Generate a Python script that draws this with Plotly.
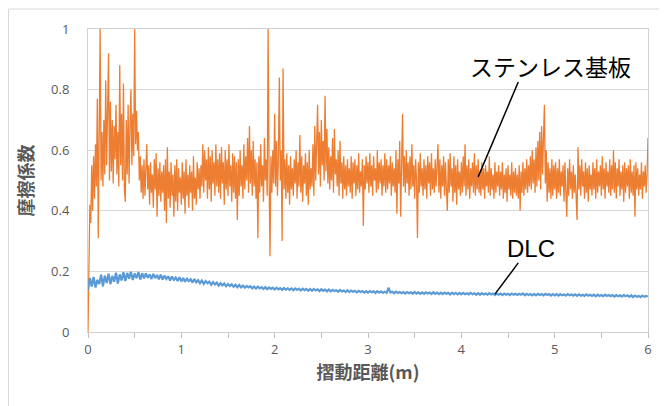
import plotly.graph_objects as go

# stainless substrate friction coefficient, one sample every 0.01 m
stainless = [
    0.00, 0.30, 0.42, 0.36, 0.55, 0.40, 0.58, 0.44, 0.62, 0.48, 0.77, 0.31, 0.60, 1.00, 0.50, 0.66, 0.48, 0.70, 0.52, 0.83,
    0.55, 0.72, 0.92, 0.50, 0.76, 0.53, 0.70, 0.49, 0.68, 0.57, 0.75, 0.52, 0.66, 0.48, 0.88, 0.55, 0.72, 0.50, 0.82, 0.47,
    0.43, 0.70, 0.52, 0.75, 0.49, 0.68, 0.80, 0.55, 0.72, 0.58, 1.00, 0.62, 0.73, 0.60, 0.66, 0.50, 0.58, 0.46, 0.55, 0.44,
    0.57, 0.45, 0.53, 0.62, 0.47, 0.55, 0.42, 0.56, 0.46, 0.52, 0.41, 0.57, 0.47, 0.59, 0.38, 0.54, 0.45, 0.56, 0.43, 0.53,
    0.46, 0.55, 0.40, 0.57, 0.36, 0.61, 0.44, 0.53, 0.41, 0.56, 0.45, 0.52, 0.38, 0.55, 0.43, 0.57, 0.40, 0.54, 0.46, 0.51,
    0.42, 0.56, 0.44, 0.53, 0.39, 0.57, 0.45, 0.52, 0.41, 0.55, 0.46, 0.53, 0.40, 0.58, 0.44, 0.51, 0.42, 0.56, 0.47, 0.54,
    0.44, 0.55, 0.48, 0.62, 0.46, 0.60, 0.50, 0.57, 0.44, 0.61, 0.47, 0.58, 0.43, 0.60, 0.49, 0.56, 0.45, 0.62, 0.48, 0.57,
    0.46, 0.59, 0.44, 0.61, 0.49, 0.56, 0.42, 0.60, 0.47, 0.57, 0.45, 0.62, 0.48, 0.55, 0.43, 0.59, 0.46, 0.58, 0.44, 0.56,
    0.37, 0.57, 0.45, 0.60, 0.48, 0.55, 0.44, 0.62, 0.47, 0.58, 0.50, 0.64, 0.46, 0.68, 0.49, 0.60, 0.45, 0.63, 0.48, 0.57,
    0.44, 0.56, 0.31, 0.58, 0.46, 0.62, 0.48, 0.55, 0.43, 0.64, 0.50, 0.57, 0.45, 1.00, 0.52, 0.25, 0.58, 0.46, 0.60, 0.49,
    0.72, 0.48, 0.63, 0.45, 0.58, 0.84, 0.50, 0.60, 0.30, 0.87, 0.47, 0.57, 0.44, 0.59, 0.46, 0.55, 0.42, 0.58, 0.47, 0.54,
    0.45, 0.57, 0.49, 0.60, 0.44, 0.56, 0.48, 0.65, 0.46, 0.58, 0.43, 0.55, 0.49, 0.59, 0.45, 0.56, 0.42, 0.60, 0.47, 0.54,
    0.48, 0.62, 0.45, 0.68, 0.50, 0.59, 0.75, 0.52, 0.66, 0.48, 0.70, 0.55, 0.63, 0.50, 0.78, 0.53, 0.67, 0.49, 0.61, 0.47,
    0.58, 0.50, 0.64, 0.46, 0.67, 0.52, 0.57, 0.48, 0.60, 0.45, 0.63, 0.49, 0.56, 0.44, 0.58, 0.47, 0.55, 0.45, 0.57, 0.48,
    0.54, 0.46, 0.58, 0.44, 0.56, 0.49, 0.57, 0.45, 0.55, 0.47, 0.59, 0.46, 0.53, 0.48, 0.57, 0.35, 0.55, 0.47, 0.58, 0.49,
    0.56, 0.46, 0.59, 0.48, 0.55, 0.45, 0.58, 0.50, 0.54, 0.46, 0.60, 0.47, 0.56, 0.49, 0.57, 0.45, 0.55, 0.48, 0.59, 0.46,
    0.57, 0.47, 0.55, 0.49, 0.58, 0.45, 0.56, 0.48, 0.54, 0.46, 0.60, 0.39, 0.57, 0.49, 0.63, 0.38, 0.52, 0.72, 0.48, 0.58,
    0.46, 0.60, 0.49, 0.56, 0.45, 0.58, 0.47, 0.62, 0.48, 0.55, 0.44, 0.57, 0.50, 0.31, 0.56, 0.46, 0.59, 0.48, 0.54, 0.45,
    0.57, 0.47, 0.55, 0.44, 0.58, 0.49, 0.56, 0.45, 0.59, 0.47, 0.54, 0.46, 0.57, 0.48, 0.55, 0.62, 0.46, 0.57, 0.44, 0.55,
    0.48, 0.58, 0.45, 0.56, 0.47, 0.40, 0.57, 0.46, 0.59, 0.48, 0.54, 0.43, 0.58, 0.46, 0.55, 0.42, 0.57, 0.47, 0.53, 0.45,
    0.56, 0.46, 0.58, 0.48, 0.62, 0.45, 0.55, 0.47, 0.57, 0.44, 0.54, 0.48, 0.56, 0.46, 0.59, 0.45, 0.55, 0.47, 0.57, 0.46,
    0.53, 0.45, 0.56, 0.47, 0.54, 0.44, 0.55, 0.48, 0.53, 0.46, 0.58, 0.45, 0.54, 0.47, 0.52, 0.44, 0.56, 0.46, 0.53, 0.48,
    0.55, 0.45, 0.53, 0.47, 0.56, 0.44, 0.52, 0.46, 0.54, 0.43, 0.55, 0.47, 0.52, 0.45, 0.56, 0.44, 0.53, 0.46, 0.54, 0.45,
    0.52, 0.44, 0.55, 0.40, 0.53, 0.46, 0.56, 0.45, 0.54, 0.47, 0.57, 0.46, 0.55, 0.48, 0.58, 0.47, 0.60, 0.49, 0.57, 0.46,
    0.61, 0.48, 0.63, 0.50, 0.66, 0.47, 0.68, 0.52, 0.64, 0.75, 0.49, 0.60, 0.43, 0.56, 0.46, 0.54, 0.44, 0.57, 0.45, 0.55,
    0.47, 0.56, 0.44, 0.54, 0.46, 0.57, 0.45, 0.53, 0.48, 0.55, 0.43, 0.56, 0.46, 0.38, 0.54, 0.45, 0.57, 0.47, 0.53, 0.44,
    0.55, 0.46, 0.52, 0.44, 0.37, 0.61, 0.47, 0.55, 0.45, 0.57, 0.48, 0.53, 0.44, 0.56, 0.46, 0.54, 0.43, 0.55, 0.47, 0.52,
    0.45, 0.56, 0.47, 0.54, 0.44, 0.57, 0.46, 0.53, 0.48, 0.55, 0.45, 0.58, 0.47, 0.54, 0.44, 0.56, 0.48, 0.53, 0.46, 0.57,
    0.45, 0.55, 0.47, 0.60, 0.46, 0.56, 0.44, 0.54, 0.48, 0.57, 0.45, 0.53, 0.47, 0.55, 0.43, 0.56, 0.46, 0.54, 0.48, 0.55,
    0.44, 0.57, 0.46, 0.53, 0.45, 0.55, 0.38, 0.56, 0.47, 0.54, 0.45, 0.52, 0.47, 0.56, 0.44, 0.53, 0.48, 0.55, 0.46, 0.52,
    0.64,
]

# DLC friction coefficient, one sample every 0.02 m
dlc = [
    0.140, 0.178, 0.150, 0.182, 0.147, 0.172, 0.158, 0.189, 0.151, 0.186,
    0.162, 0.192, 0.158, 0.185, 0.166, 0.196, 0.160, 0.190, 0.170, 0.197,
    0.168, 0.195, 0.176, 0.199, 0.172, 0.193, 0.178, 0.198, 0.173, 0.194,
    0.177, 0.193, 0.179, 0.190, 0.175, 0.192, 0.178, 0.188, 0.174, 0.189,
    0.173, 0.186, 0.175, 0.184, 0.170, 0.183, 0.172, 0.180, 0.168, 0.181,
    0.167, 0.178, 0.166, 0.176, 0.168, 0.174, 0.163, 0.175, 0.164, 0.171,
    0.161, 0.170, 0.159, 0.168, 0.161, 0.166, 0.156, 0.165, 0.157, 0.163,
    0.153, 0.161, 0.154, 0.160, 0.151, 0.158, 0.152, 0.157, 0.149, 0.156,
    0.148, 0.155, 0.147, 0.153, 0.146, 0.152, 0.147, 0.151, 0.144, 0.150,
    0.143, 0.150, 0.144, 0.148, 0.142, 0.148, 0.141, 0.147, 0.142, 0.146,
    0.140, 0.146, 0.141, 0.145, 0.139, 0.145, 0.140, 0.144, 0.139, 0.144,
    0.138, 0.144, 0.139, 0.143, 0.137, 0.143, 0.138, 0.142, 0.136, 0.142,
    0.136, 0.142, 0.137, 0.141, 0.135, 0.141, 0.136, 0.140, 0.134, 0.140,
    0.134, 0.139, 0.135, 0.138, 0.133, 0.139, 0.134, 0.137, 0.132, 0.138,
    0.132, 0.137, 0.133, 0.136, 0.131, 0.136, 0.132, 0.135, 0.130, 0.135,
    0.130, 0.135, 0.131, 0.134, 0.129, 0.135, 0.130, 0.134, 0.129, 0.133,
    0.129, 0.146, 0.130, 0.133, 0.128, 0.133, 0.129, 0.132, 0.128, 0.132,
    0.127, 0.132, 0.128, 0.131, 0.126, 0.132, 0.127, 0.131, 0.126, 0.131,
    0.126, 0.131, 0.127, 0.130, 0.125, 0.131, 0.126, 0.130, 0.125, 0.130,
    0.125, 0.130, 0.126, 0.129, 0.124, 0.130, 0.125, 0.129, 0.124, 0.129,
    0.124, 0.129, 0.125, 0.128, 0.124, 0.129, 0.125, 0.128, 0.123, 0.128,
    0.123, 0.128, 0.124, 0.127, 0.123, 0.128, 0.124, 0.127, 0.122, 0.127,
    0.123, 0.127, 0.122, 0.127, 0.123, 0.126, 0.122, 0.127, 0.123, 0.126,
    0.122, 0.126, 0.123, 0.127, 0.121, 0.126, 0.122, 0.125, 0.121, 0.126,
    0.121, 0.126, 0.122, 0.125, 0.121, 0.126, 0.122, 0.125, 0.120, 0.125,
    0.121, 0.125, 0.120, 0.125, 0.121, 0.124, 0.120, 0.125, 0.121, 0.124,
    0.120, 0.124, 0.119, 0.124, 0.120, 0.123, 0.119, 0.124, 0.120, 0.123,
    0.119, 0.123, 0.118, 0.123, 0.119, 0.122, 0.118, 0.123, 0.119, 0.122,
    0.118, 0.122, 0.117, 0.122, 0.118, 0.121, 0.117, 0.122, 0.118, 0.121,
    0.116, 0.121, 0.115, 0.120, 0.116, 0.119, 0.115, 0.120, 0.116, 0.119,
    0.117,
]

# sliding distance (m) for each sample
stainless_dist = [round(i * 6 / (len(stainless) - 1), 4) for i in range(len(stainless))]
dlc_dist = [round(i * 6 / (len(dlc) - 1), 4) for i in range(len(dlc))]

x_tick_vals = [0, 0.5, 1, 1.5, 2, 2.5, 3, 3.5, 4, 4.5, 5, 5.5, 6]
x_tick_text = ["0", "", "1", "", "2", "", "3", "", "4", "", "5", "", "6"]
y_tick_vals = [0, 0.2, 0.4, 0.6, 0.8, 1]
y_tick_text = ["0", "0.2", "0.4", "0.6", "0.8", "1"]

FONT = "Open Sans, Noto Sans CJK JP, sans-serif"
CJK = "Noto Sans CJK JP, sans-serif"
GRAY = "#595959"

# page body has an 8px margin, so the figure is sized/offset to compensate
W, H = 659, 398
L, R, T, B = 80, 19, 21, 74
PW, PH = W - L - R, H - T - B

fig = go.Figure()
fig.add_trace(go.Scatter(x=stainless_dist, y=stainless, mode="lines",
                         line=dict(color="#ED7D31", width=1.3),
                         name="ステンレス基板", showlegend=False))
fig.add_trace(go.Scatter(x=dlc_dist, y=dlc, mode="lines",
                         line=dict(color="#5B9BD5", width=2.2),
                         name="DLC", showlegend=False))

fig.update_layout(
    width=W, height=H,
    margin=dict(l=L, r=R, t=T, b=B, autoexpand=False),
    paper_bgcolor="white", plot_bgcolor="white",
    font=dict(family=FONT, color=GRAY, size=13),
    xaxis=dict(range=[0, 6], tickvals=x_tick_vals, ticktext=x_tick_text,
               ticks="outside", ticklen=5, tickcolor="#bfbfbf",
               showgrid=False, zeroline=False, automargin=False,
               showline=True, linecolor="#d0d0d0", mirror=True,
               tickfont=dict(size=13, color=GRAY, family=FONT),
               title=dict(text="<b>摺動距離(m)</b>", standoff=8,
                          font=dict(size=18, color=GRAY, family=CJK))),
    yaxis=dict(range=[0, 1], tickvals=y_tick_vals, ticktext=y_tick_text,
               ticks="", showgrid=True, gridcolor="#d9d9d9", gridwidth=1,
               zeroline=False, showline=True, linecolor="#d0d0d0", mirror=True,
               ticklabelstandoff=15, automargin=False,
               tickfont=dict(size=13, color=GRAY, family=FONT),
               title=dict(text="<b>摩擦係数</b>", standoff=12,
                          font=dict(size=18, color=GRAY, family=CJK))),
)

# outer chart border
fig.add_shape(type="rect", xref="paper", yref="paper",
              x0=(0.5 - L) / PW, x1=(W + 40 - L) / PW,
              y0=-(B + 40) / PH, y1=(PH + T - 1) / PH,
              line=dict(color="#d9d9d9", width=1), layer="below")

# callouts
fig.add_annotation(x=4.96, y=0.878, xref="x", yref="y", text="ステンレス基板",
                   showarrow=False, font=dict(size=23, color="black", family=CJK))
fig.add_shape(type="line", xref="x", yref="y", x0=4.61, y0=0.825, x1=4.18, y1=0.512,
              line=dict(color="black", width=1.5))
fig.add_annotation(x=4.75, y=0.274, xref="x", yref="y", text="DLC",
                   showarrow=False, font=dict(size=24, color="black",
                                              family="Liberation Sans, Arial, sans-serif"))
fig.add_shape(type="line", xref="x", yref="y", x0=4.61, y0=0.228, x1=4.36, y1=0.125,
              line=dict(color="black", width=1.5))

fig.write_html("out.html")
